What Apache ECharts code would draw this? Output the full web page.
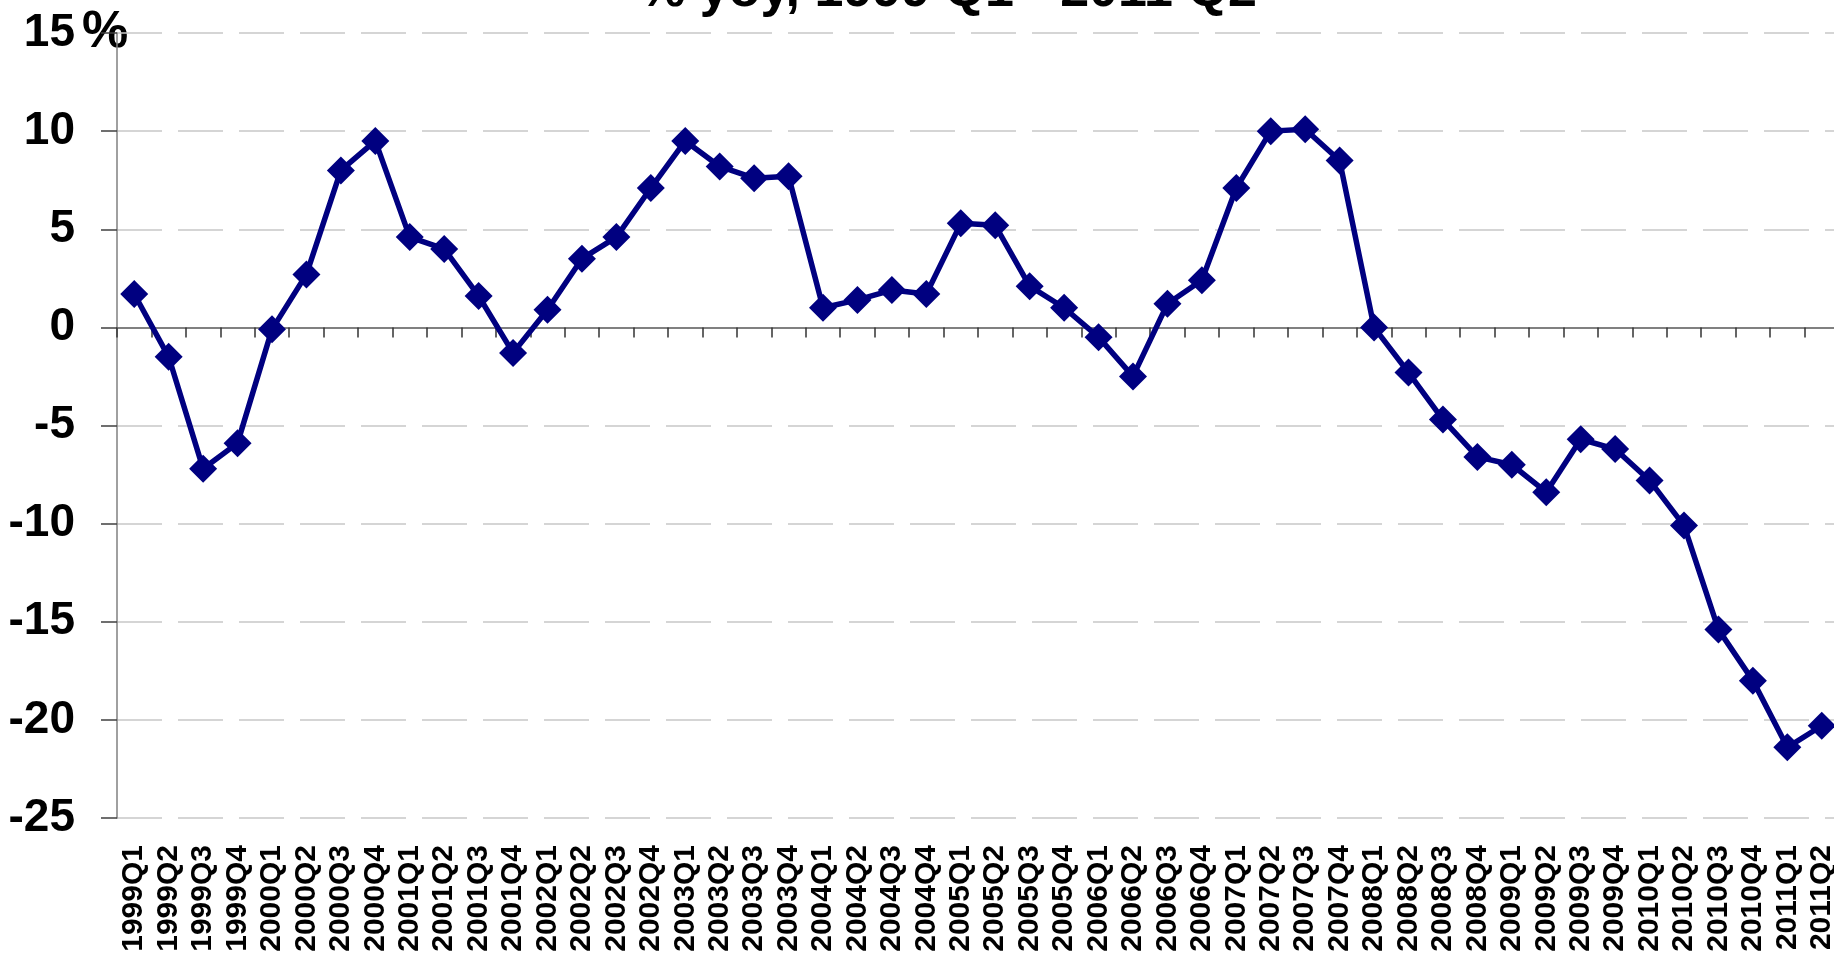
<!DOCTYPE html>
<html>
<head>
<meta charset="utf-8">
<script src="https://cdn.jsdelivr.net/npm/echarts@6/dist/echarts.min.js"></script>
<style>
html,body{margin:0;padding:0;background:#fff;}
#c{width:1834px;height:959px;}
</style>
</head>
<body>
<div id="c"></div>
<script>
const titleText = '% yoy, 1999 Q1 - 2011 Q2';
const unitLabel = '%';
const categories = [
  '1999Q1','1999Q2','1999Q3','1999Q4',
  '2000Q1','2000Q2','2000Q3','2000Q4',
  '2001Q1','2001Q2','2001Q3','2001Q4',
  '2002Q1','2002Q2','2002Q3','2002Q4',
  '2003Q1','2003Q2','2003Q3','2003Q4',
  '2004Q1','2004Q2','2004Q3','2004Q4',
  '2005Q1','2005Q2','2005Q3','2005Q4',
  '2006Q1','2006Q2','2006Q3','2006Q4',
  '2007Q1','2007Q2','2007Q3','2007Q4',
  '2008Q1','2008Q2','2008Q3','2008Q4',
  '2009Q1','2009Q2','2009Q3','2009Q4',
  '2010Q1','2010Q2','2010Q3','2010Q4',
  '2011Q1','2011Q2'
];
const values = [
  1.7, -1.5, -7.2, -5.9,
  -0.1, 2.7, 8.0, 9.5,
  4.6, 4.0, 1.6, -1.3,
  0.9, 3.5, 4.6, 7.1,
  9.5, 8.2, 7.6, 7.7,
  1.0, 1.4, 1.9, 1.7,
  5.3, 5.2, 2.1, 1.0,
  -0.5, -2.5, 1.2, 2.4,
  7.1, 10.0, 10.1, 8.5,
  0.0, -2.3, -4.7, -6.6,
  -7.0, -8.4, -5.7, -6.2,
  -7.8, -10.1, -15.4, -18.0,
  -21.4, -20.3
];
const yMin = -25;
const yMax = 15;
const yInterval = 5;

const FONT = "'Liberation Sans', Arial, sans-serif";
const chart = echarts.init(document.getElementById('c'), null, {renderer: 'canvas'});
chart.setOption({
  animation: false,
  backgroundColor: '#ffffff',
  grid: {left: 117, right: -5, top: 33, bottom: 141, containLabel: false, outerBoundsMode: 'none'},
  graphic: [
    {type: 'text', x: 948, y: -8, silent: true,
     style: {text: titleText, font: "bold 52px " + FONT, fill: '#000', align: 'center', verticalAlign: 'middle'}},
    {type: 'text', x: 82, y: 33, silent: true,
     style: {text: unitLabel, font: "bold 52px " + FONT, fill: '#000', align: 'left', verticalAlign: 'middle'}}
  ],
  xAxis: [
    {
      type: 'category', data: categories, position: 'bottom', boundaryGap: true,
      axisLine: {show: false, onZero: false},
      axisTick: {show: false},
      splitLine: {show: false},
      axisLabel: {interval: 0, rotate: 90, margin: 27, fontSize: 30, fontWeight: 'bold', color: '#000', fontFamily: FONT}
    },
    {
      type: 'category', data: categories, position: 'top', boundaryGap: true,
      axisLine: {show: true, onZero: true, lineStyle: {color: '#808080', width: 2}},
      axisTick: {show: true, inside: true, length: 10, interval: 0, lineStyle: {color: '#333', width: 1.5}},
      axisLabel: {show: false},
      splitLine: {show: false}
    }
  ],
  yAxis: {
    type: 'value', min: yMin, max: yMax, interval: yInterval,
    axisLine: {show: true, onZero: false, lineStyle: {color: '#808080', width: 1.5}},
    axisTick: {show: true, length: 16, lineStyle: {color: '#404040', width: 1.5}},
    axisLabel: {margin: 42, fontSize: 46, fontWeight: 'bold', color: '#000', fontFamily: FONT},
    splitLine: {show: true, lineStyle: {color: '#c8c8c8', width: 1.5, type: [45, 16]}}
  },
  series: [{
    type: 'line', data: values, xAxisIndex: 0,
    symbol: 'diamond', symbolSize: 28, showAllSymbol: true,
    lineStyle: {color: '#000080', width: 5.5},
    itemStyle: {color: '#000080'},
    z: 5
  }]
});
</script>
</body>
</html>
